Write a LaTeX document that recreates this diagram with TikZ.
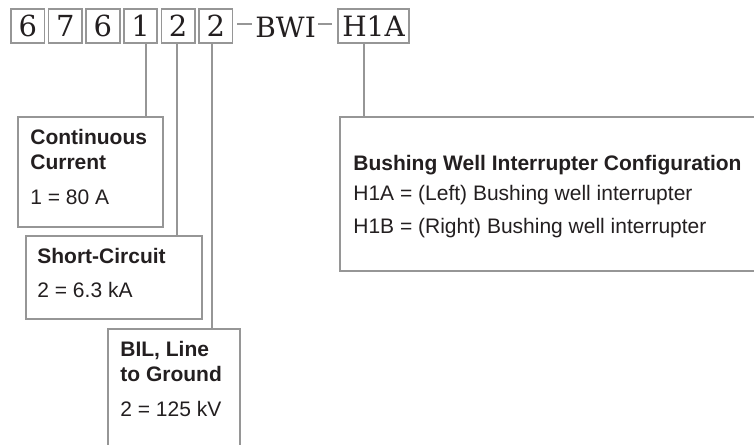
\documentclass[tikz,border=0pt]{standalone}
\usepackage{fontspec}
\setsansfont{Liberation Sans}
\newfontfamily\codefont{DejaVu Serif}
\usetikzlibrary{positioning}
\definecolor{framegray}{RGB}{150,150,150}
\definecolor{inkblack}{RGB}{35,31,32}
\tikzset{
  digit/.style={draw=framegray,line width=0.85pt,minimum width=16.75pt,minimum height=17pt,
                inner sep=0pt,font=\codefont\fontsize{14.5}{14.5}\selectfont,text=inkblack},
  infobox/.style={draw=framegray,line width=0.85pt,anchor=north west,inner sep=0pt},
  infotext/.style={anchor=north west,inner sep=0pt,align=left,
                   font=\sffamily\fontsize{10.5}{12.5}\selectfont,text=inkblack},
  link/.style={draw=framegray,line width=0.85pt},
}
\begin{document}
\begin{tikzpicture}[x=0.5pt,y=-0.5pt]
  \clip (0,0) rectangle (754,444);
  % catalogue number
  \foreach \d [count=\i] in {6,7,6,1,2,2}
    \node[digit] (d\i) at ({27.75+37.6*(\i-1)},26) {\d};
  \node[inner sep=0pt,font=\codefont\fontsize{14}{14}\selectfont,text=inkblack,anchor=base west] (bwi) at (255,38) {BWI};
  \node[digit,minimum width=35.5pt,font=\codefont\fontsize{14}{14}\selectfont] (opt) at (373.5,26) {H1A};
  \draw[link] ([xshift=2pt,yshift=1pt]d6.east) -- ([xshift=-1.5pt,yshift=1pt]d6.east -| bwi.west);
  \draw[link] ([xshift=1pt,yshift=1pt]bwi.east |- d6.east) -- ([xshift=-2.5pt,yshift=1pt]opt.west);
  % boxes
  \node[infobox,minimum width=72.5pt,minimum height=55pt] (cc) at (17,116) {};
  \node[infobox,minimum width=88pt,minimum height=41.5pt] (sc) at (25,235) {};
  \node[infobox,minimum width=66pt,minimum height=100pt] (bil) at (107,328) {};
  \node[infobox,minimum width=250pt,minimum height=77pt] (bw) at (339,116) {};
  \node[infotext] (cct) at (30,129) {\textbf{Continuous}\\\textbf{Current}\\[5pt]1 = 80 A};
  \node[infotext] (sct) at (37,248) {\textbf{Short-Circuit}\\[4.5pt]2 = 6.3 kA};
  \node[infotext] (bilt) at (120,341) {\textbf{BIL, Line}\\\textbf{to Ground}\\[5pt]2 = 125 kV};
  \node[infotext] (bwt) at (353,155) {\textbf{Bushing Well Interrupter Configuration}\\[2.5pt]%
    H1A = (Left) Bushing well interrupter\\[4pt]H1B = (Right) Bushing well interrupter};
  % leaders
  \draw[link] ([xshift=2.7pt]d4.south) -- ([xshift=2.7pt]d4.south |- cc.north);
  \draw[link] ([xshift=-0.6pt]d5.south) -- ([xshift=-0.6pt]d5.south |- sc.north);
  \draw[link] ([xshift=-1.9pt]d6.south) -- ([xshift=-1.9pt]d6.south |- bil.north);
  \draw[link] ([xshift=-4.75pt]opt.south) -- ([xshift=-4.75pt]opt.south |- bw.north);
\end{tikzpicture}
\end{document}
